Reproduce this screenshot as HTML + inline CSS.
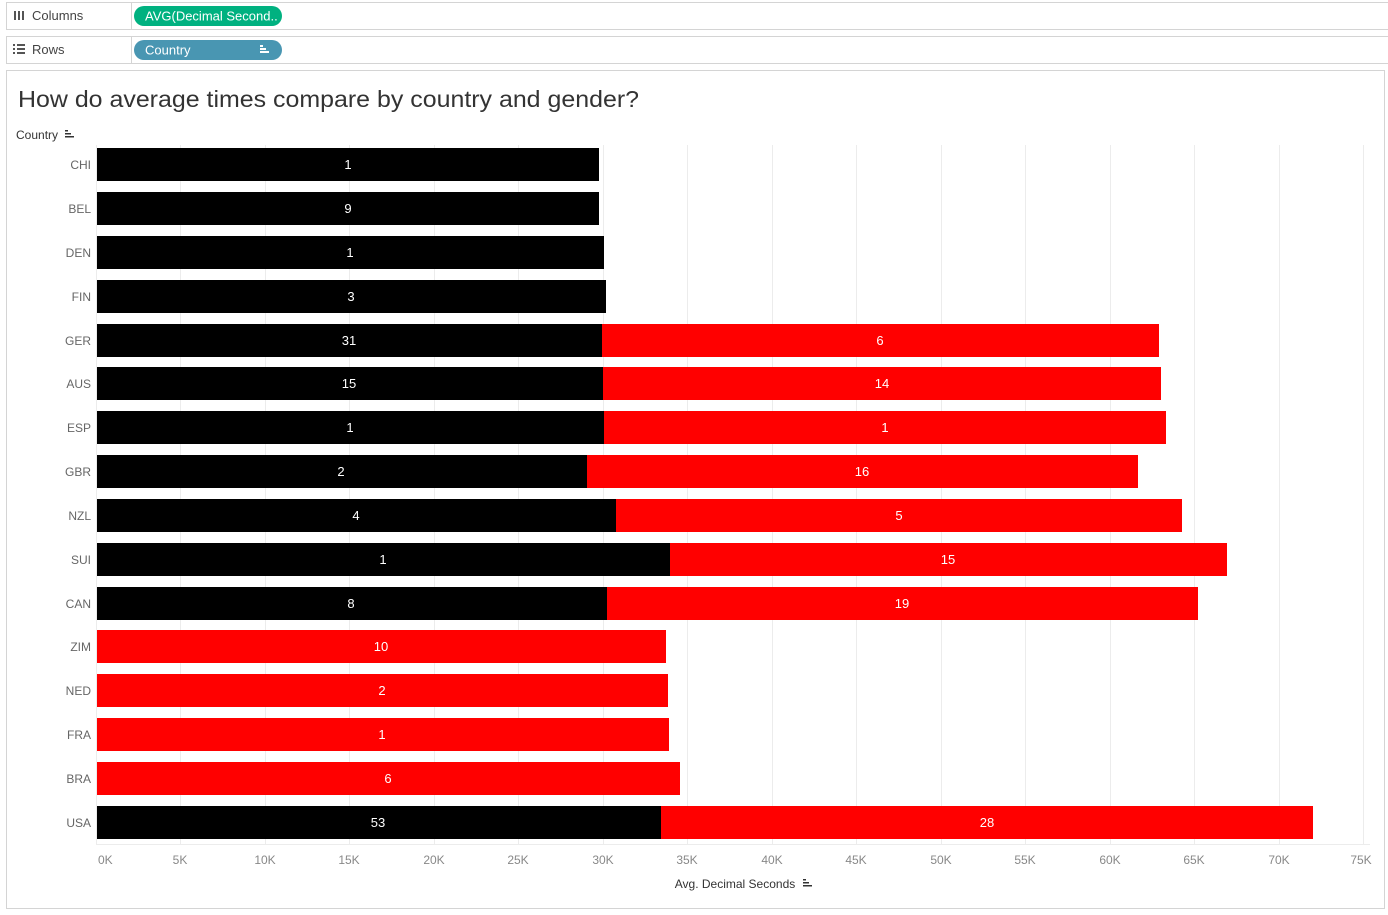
<!DOCTYPE html>
<html><head><meta charset="utf-8"><style>
body{margin:0;width:1388px;height:910px;background:#fff;font-family:"Liberation Sans",sans-serif;overflow:hidden}
</style></head><body>
<svg width="1388" height="910" xmlns="http://www.w3.org/2000/svg" font-family="Liberation Sans, sans-serif">
<rect x="0" y="0" width="1388" height="910" fill="#fff"/>
<rect x="6.5" y="2.5" width="1390" height="27" fill="#fff" stroke="#d4d4d4"/>
<line x1="131.5" y1="3" x2="131.5" y2="29" stroke="#d4d4d4"/>
<rect x="6.5" y="36.5" width="1390" height="27" fill="#fff" stroke="#d4d4d4"/>
<line x1="131.5" y1="37" x2="131.5" y2="63" stroke="#d4d4d4"/>
<g fill="#555"><rect x="14" y="11" width="2" height="9"/><rect x="18" y="11" width="2" height="9"/><rect x="22" y="11" width="2" height="9"/>
<rect x="13" y="44" width="2" height="2"/><rect x="17" y="44" width="8" height="2"/><rect x="13" y="48" width="2" height="2"/><rect x="17" y="48" width="8" height="2"/><rect x="13" y="52" width="2" height="2"/><rect x="17" y="52" width="8" height="2"/></g>
<text x="32" y="20" font-size="13" fill="#444">Columns</text>
<text x="32" y="54" font-size="13" fill="#444">Rows</text>
<rect x="134" y="6" width="148" height="20" rx="10" fill="#00b180"/>
<text x="145" y="20.5" font-size="13" fill="#fff">AVG(Decimal Second..</text>
<rect x="134" y="40" width="148" height="20" rx="10" fill="#4996b2"/>
<text x="145" y="54.5" font-size="13" fill="#fff">Country</text>
<g fill="#fff"><rect x="260" y="45" width="3" height="2"/><rect x="260" y="48" width="6" height="2"/><rect x="260" y="51" width="9" height="2"/></g>
<rect x="6.5" y="70.5" width="1378" height="838" fill="#fff" stroke="#d4d4d4"/>
<text x="18" y="107" font-size="23" fill="#333" textLength="621" lengthAdjust="spacingAndGlyphs">How do average times compare by country and gender?</text>
<text x="16" y="139" font-size="12" fill="#333">Country</text>
<g fill="#333"><rect x="65" y="130" width="3" height="1.5"/><rect x="65" y="133" width="6" height="1.5"/><rect x="65" y="136" width="9" height="1.5"/></g>
<g stroke="#ececec" stroke-width="1">
<line x1="180.5" y1="145" x2="180.5" y2="845"/><line x1="265.5" y1="145" x2="265.5" y2="845"/><line x1="349.5" y1="145" x2="349.5" y2="845"/><line x1="434.5" y1="145" x2="434.5" y2="845"/><line x1="518.5" y1="145" x2="518.5" y2="845"/><line x1="603.5" y1="145" x2="603.5" y2="845"/><line x1="687.5" y1="145" x2="687.5" y2="845"/><line x1="772.5" y1="145" x2="772.5" y2="845"/><line x1="856.5" y1="145" x2="856.5" y2="845"/><line x1="941.5" y1="145" x2="941.5" y2="845"/><line x1="1025.5" y1="145" x2="1025.5" y2="845"/><line x1="1110.5" y1="145" x2="1110.5" y2="845"/><line x1="1194.5" y1="145" x2="1194.5" y2="845"/><line x1="1279.5" y1="145" x2="1279.5" y2="845"/><line x1="1363.5" y1="145" x2="1363.5" y2="845"/>
<line x1="96.5" y1="145" x2="96.5" y2="845"/>
<line x1="97" y1="844.5" x2="1370" y2="844.5"/>
</g>
<g font-size="13" fill="#fff" text-anchor="middle">
<rect x="97" y="148" width="502" height="33" fill="#000"/><text x="348" y="169">1</text>
<rect x="97" y="192" width="502" height="33" fill="#000"/><text x="348" y="213">9</text>
<rect x="97" y="236" width="507" height="33" fill="#000"/><text x="350" y="257">1</text>
<rect x="97" y="280" width="509" height="33" fill="#000"/><text x="351" y="301">3</text>
<rect x="97" y="324" width="505" height="33" fill="#000"/><text x="349" y="345">31</text>
<rect x="602" y="324" width="557" height="33" fill="#f00"/><text x="880" y="345">6</text>
<rect x="97" y="367" width="506" height="33" fill="#000"/><text x="349" y="388">15</text>
<rect x="603" y="367" width="558" height="33" fill="#f00"/><text x="882" y="388">14</text>
<rect x="97" y="411" width="507" height="33" fill="#000"/><text x="350" y="432">1</text>
<rect x="604" y="411" width="562" height="33" fill="#f00"/><text x="885" y="432">1</text>
<rect x="97" y="455" width="490" height="33" fill="#000"/><text x="341" y="476">2</text>
<rect x="587" y="455" width="551" height="33" fill="#f00"/><text x="862" y="476">16</text>
<rect x="97" y="499" width="519" height="33" fill="#000"/><text x="356" y="520">4</text>
<rect x="616" y="499" width="566" height="33" fill="#f00"/><text x="899" y="520">5</text>
<rect x="97" y="543" width="573" height="33" fill="#000"/><text x="383" y="564">1</text>
<rect x="670" y="543" width="557" height="33" fill="#f00"/><text x="948" y="564">15</text>
<rect x="97" y="587" width="510" height="33" fill="#000"/><text x="351" y="608">8</text>
<rect x="607" y="587" width="591" height="33" fill="#f00"/><text x="902" y="608">19</text>
<rect x="97" y="630" width="569" height="33" fill="#f00"/><text x="381" y="651">10</text>
<rect x="97" y="674" width="571" height="33" fill="#f00"/><text x="382" y="695">2</text>
<rect x="97" y="718" width="572" height="33" fill="#f00"/><text x="382" y="739">1</text>
<rect x="97" y="762" width="583" height="33" fill="#f00"/><text x="388" y="783">6</text>
<rect x="97" y="806" width="564" height="33" fill="#000"/><text x="378" y="827">53</text>
<rect x="661" y="806" width="652" height="33" fill="#f00"/><text x="987" y="827">28</text>
</g>
<g font-size="12" fill="#666" text-anchor="end">
<text x="91" y="169">CHI</text><text x="91" y="213">BEL</text><text x="91" y="257">DEN</text><text x="91" y="301">FIN</text><text x="91" y="345">GER</text><text x="91" y="388">AUS</text><text x="91" y="432">ESP</text><text x="91" y="476">GBR</text><text x="91" y="520">NZL</text><text x="91" y="564">SUI</text><text x="91" y="608">CAN</text><text x="91" y="651">ZIM</text><text x="91" y="695">NED</text><text x="91" y="739">FRA</text><text x="91" y="783">BRA</text><text x="91" y="827">USA</text>
</g>
<g font-size="12" fill="#888" text-anchor="middle">
<text x="98" y="864" text-anchor="start">0K</text><text x="180" y="864">5K</text><text x="265" y="864">10K</text><text x="349" y="864">15K</text><text x="434" y="864">20K</text><text x="518" y="864">25K</text><text x="603" y="864">30K</text><text x="687" y="864">35K</text><text x="772" y="864">40K</text><text x="856" y="864">45K</text><text x="941" y="864">50K</text><text x="1025" y="864">55K</text><text x="1110" y="864">60K</text><text x="1194" y="864">65K</text><text x="1279" y="864">70K</text><text x="1361" y="864">75K</text>
</g>
<text x="735" y="888" font-size="12" fill="#333" text-anchor="middle">Avg. Decimal Seconds</text>
<g fill="#333"><rect x="803" y="879" width="3" height="1.5"/><rect x="803" y="882" width="6" height="1.5"/><rect x="803" y="885" width="9" height="1.5"/></g>
</svg>
</body></html>
